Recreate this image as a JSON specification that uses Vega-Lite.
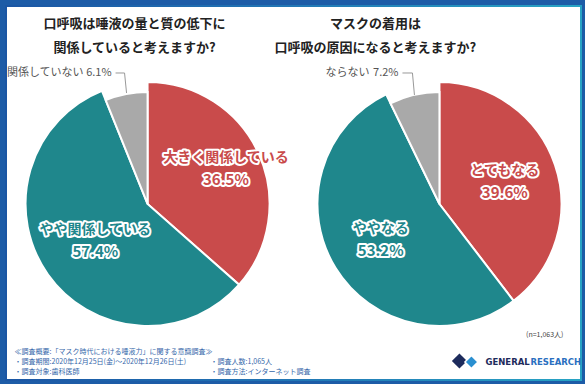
{
  "$schema": "https://vega.github.io/schema/vega-lite/v6.json",
  "width": 575,
  "height": 374,
  "autosize": {"type": "none"},
  "padding": {"left": 6, "top": 6, "right": 4, "bottom": 4},
  "background": "#1d5ca7",
  "config": {
    "view": {
      "fill": "white",
      "stroke": {"gradient": "linear", "x1": 0, "y1": 0, "x2": 1, "y2": 0,
        "stops": [{"offset": 0, "color": "#1b56a4"}, {"offset": 0.5, "color": "#2277b5"}, {"offset": 1, "color": "#28a4c4"}]},
      "strokeWidth": 2
    },
    "axis": {"disable": true},
    "legend": {"disable": true},
    "text": {"font": "Noto Sans CJK JP"}
  },
  "data": {
    "values": [
      {"q": "A", "key": "big", "name": "大きく関係している", "pct": 0.365, "ord": 1},
      {"q": "A", "key": "mid", "name": "やや関係している", "pct": 0.574, "ord": 2},
      {"q": "A", "key": "none", "name": "関係していない", "pct": 0.061, "ord": 3},
      {"q": "B", "key": "big", "name": "とてもなる", "pct": 0.396, "ord": 1},
      {"q": "B", "key": "mid", "name": "ややなる", "pct": 0.532, "ord": 2},
      {"q": "B", "key": "none", "name": "ならない", "pct": 0.072, "ord": 3}
    ]
  },
  "layer": [
    {
      "transform": [
        {"stack": "pct", "groupby": ["q"], "sort": [{"field": "ord", "order": "ascending"}], "as": ["s0", "s1"]},
        {"filter": "datum.key != 'none'"}
      ],
      "mark": {"type": "arc", "outerRadius": 122, "stroke": "white", "strokeWidth": 2},
      "encoding": {
        "x": {"field": "q", "type": "nominal", "scale": {"type": "point", "domain": ["A", "B"], "padding": 0.485}},
        "y": {"datum": "c", "type": "nominal", "scale": {"type": "point", "domain": ["c"], "align": 0.5294}},
        "theta": {"field": "s0", "type": "quantitative", "stack": null, "scale": {"domain": [0, 1]}},
        "theta2": {"field": "s1"},
        "color": {"field": "key", "type": "nominal", "scale": {"domain": ["big", "mid", "none"], "range": ["#c94b4b", "#1f878c", "#a9a9a9"]}}
      }
    },
    {
      "transform": [
        {"stack": "pct", "groupby": ["q"], "sort": [{"field": "ord", "order": "ascending"}], "as": ["s0", "s1"]},
        {"filter": "datum.key == 'none'"}
      ],
      "mark": {"type": "arc", "outerRadius": 112, "stroke": "white", "strokeWidth": 2},
      "encoding": {
        "x": {"field": "q", "type": "nominal"},
        "y": {"datum": "c", "type": "nominal"},
        "theta": {"field": "s0", "type": "quantitative", "stack": null},
        "theta2": {"field": "s1"},
        "color": {"field": "key", "type": "nominal"}
      }
    },
    {
      "transform": [{"filter": "datum.q == 'A'"}],
      "encoding": {
        "x": {"field": "q", "type": "nominal"},
        "y": {"datum": "c", "type": "nominal"},
        "theta": {"field": "pct", "type": "quantitative", "stack": true},
        "order": {"field": "ord", "type": "quantitative"},
        "radius": {"value": {"expr": "datum.key == 'big' ? 86 : 64"}},
        "opacity": {"condition": {"test": "datum.key == 'none'", "value": 0}, "value": 1}
      },
      "layer": [
        {"mark": {"type": "text", "fill": "white", "stroke": "white", "strokeWidth": 4, "strokeJoin": "round", "fontWeight": "bold", "fontSize": 14, "dy": -11}, "encoding": {"text": {"field": "name"}}},
        {"mark": {"type": "text", "fill": "white", "stroke": "white", "strokeWidth": 4, "strokeJoin": "round", "fontWeight": "bold", "fontSize": 15, "dy": 11}, "encoding": {"text": {"field": "pct", "format": ".1%"}}},
        {"mark": {"type": "text", "fontWeight": "bold", "fontSize": 14, "dy": -11}, "encoding": {"text": {"field": "name"}, "color": {"field": "key", "type": "nominal"}}},
        {"mark": {"type": "text", "fontWeight": "bold", "fontSize": 15, "dy": 11}, "encoding": {"text": {"field": "pct", "format": ".1%"}, "color": {"field": "key", "type": "nominal"}}}
      ]
    },
    {
      "transform": [{"filter": "datum.q == 'B'"}],
      "encoding": {
        "x": {"field": "q", "type": "nominal"},
        "y": {"datum": "c", "type": "nominal"},
        "theta": {"field": "pct", "type": "quantitative", "stack": true},
        "order": {"field": "ord", "type": "quantitative"},
        "radius": {"value": 69},
        "opacity": {"condition": {"test": "datum.key == 'none'", "value": 0}, "value": 1}
      },
      "layer": [
        {"mark": {"type": "text", "fill": "white", "stroke": "white", "strokeWidth": 4, "strokeJoin": "round", "fontWeight": "bold", "fontSize": 14, "dy": -11}, "encoding": {"text": {"field": "name"}}},
        {"mark": {"type": "text", "fill": "white", "stroke": "white", "strokeWidth": 4, "strokeJoin": "round", "fontWeight": "bold", "fontSize": 15, "dy": 11}, "encoding": {"text": {"field": "pct", "format": ".1%"}}},
        {"mark": {"type": "text", "fontWeight": "bold", "fontSize": 14, "dy": -11}, "encoding": {"text": {"field": "name"}, "color": {"field": "key", "type": "nominal"}}},
        {"mark": {"type": "text", "fontWeight": "bold", "fontSize": 15, "dy": 11}, "encoding": {"text": {"field": "pct", "format": ".1%"}, "color": {"field": "key", "type": "nominal"}}}
      ]
    },
    {
      "transform": [{"filter": "datum.key == 'none' && datum.q == 'A'"}],
      "encoding": {"x": {"field": "q", "type": "nominal"}, "y": {"datum": "c", "type": "nominal"}},
      "layer": [
        {"mark": {"type": "text", "align": "right", "baseline": "middle", "dx": -64, "dy": -131, "fontSize": 11, "fill": "#555555"}, "encoding": {"text": {"field": "name"}}},
        {"mark": {"type": "text", "align": "right", "baseline": "middle", "dx": -36, "dy": -131, "fontSize": 11, "fill": "#555555"}, "encoding": {"text": {"field": "pct", "format": ".1%"}}},
        {"mark": {"type": "rule", "color": "#999999", "strokeWidth": 1, "xOffset": -32, "x2Offset": -23, "yOffset": -131, "y2Offset": -131}, "encoding": {"x2": {"field": "q"}, "y2": {"datum": "c"}}},
        {"mark": {"type": "rule", "color": "#999999", "strokeWidth": 1, "xOffset": -23, "x2Offset": -21, "yOffset": -131, "y2Offset": -111}, "encoding": {"x2": {"field": "q"}, "y2": {"datum": "c"}}}
      ]
    },
    {
      "transform": [{"filter": "datum.key == 'none' && datum.q == 'B'"}],
      "encoding": {"x": {"field": "q", "type": "nominal"}, "y": {"datum": "c", "type": "nominal"}},
      "layer": [
        {"mark": {"type": "text", "align": "right", "baseline": "middle", "dx": -70, "dy": -131, "fontSize": 11, "fill": "#555555"}, "encoding": {"text": {"field": "name"}}},
        {"mark": {"type": "text", "align": "right", "baseline": "middle", "dx": -41, "dy": -131, "fontSize": 11, "fill": "#555555"}, "encoding": {"text": {"field": "pct", "format": ".1%"}}},
        {"mark": {"type": "rule", "color": "#999999", "strokeWidth": 1, "xOffset": -37, "x2Offset": -27, "yOffset": -131, "y2Offset": -131}, "encoding": {"x2": {"field": "q"}, "y2": {"datum": "c"}}},
        {"mark": {"type": "rule", "color": "#999999", "strokeWidth": 1, "xOffset": -27, "x2Offset": -25, "yOffset": -131, "y2Offset": -109}, "encoding": {"x2": {"field": "q"}, "y2": {"datum": "c"}}}
      ]
    },
    {
      "data": {"values": [{}]},
      "encoding": {"y": {"datum": "c", "type": "nominal"}},
      "layer": [
        {"mark": {"type": "text", "align": "center", "baseline": "top", "dx": -13, "dy": -186, "fontSize": 13, "fontWeight": "bold", "lineHeight": 24, "fill": "#222222"},
         "encoding": {"x": {"datum": "A", "type": "nominal"}, "text": {"value": ["口呼吸は唾液の量と質の低下に", "関係していると考えますか?"]}}},
        {"mark": {"type": "text", "align": "center", "baseline": "top", "dx": -64, "dy": -186, "fontSize": 13, "fontWeight": "bold", "lineHeight": 24, "fill": "#222222"},
         "encoding": {"x": {"datum": "B", "type": "nominal"}, "text": {"value": ["マスクの着用は", "口呼吸の原因になると考えますか?"]}}},
        {"mark": {"type": "text", "align": "left", "baseline": "top", "dx": -133, "dy": 144.5, "fontSize": 7, "lineHeight": 10, "fill": "#3567aa"},
         "encoding": {"x": {"datum": "A", "type": "nominal"}, "text": {"value": ["≪調査概要:「マスク時代における唾液力」に関する意識調査≫", "・調査期間:2020年12月25日(金)〜2020年12月26日(土)", "・調査対象:歯科医師"]}}},
        {"mark": {"type": "text", "align": "left", "baseline": "top", "dx": 63, "dy": 154.5, "fontSize": 7, "lineHeight": 10, "fill": "#3567aa"},
         "encoding": {"x": {"datum": "A", "type": "nominal"}, "text": {"value": ["・調査人数:1,065人", "・調査方法:インターネット調査"]}}},
        {"mark": {"type": "text", "align": "right", "baseline": "middle", "dx": 124, "dy": 131, "fontSize": 7, "fill": "#444444"},
         "encoding": {"x": {"datum": "B", "type": "nominal"}, "text": {"value": "(n=1,063人)"}}},
        {"mark": {"type": "point", "shape": "diamond", "filled": true, "size": 230, "color": "#1d2b5c", "opacity": 1, "xOffset": 20, "yOffset": 157},
         "encoding": {"x": {"datum": "B", "type": "nominal"}}},
        {"mark": {"type": "point", "shape": "diamond", "filled": true, "size": 170, "color": "#2a8fd0", "opacity": 1, "stroke": "white", "strokeWidth": 1.5, "xOffset": 32, "yOffset": 158},
         "encoding": {"x": {"datum": "B", "type": "nominal"}}},
        {"mark": {"type": "text", "align": "left", "baseline": "middle", "dx": 46, "dy": 158, "fontSize": 8.5, "fontWeight": "bold", "font": "DejaVu Sans", "fill": "#1d2b5c"},
         "encoding": {"x": {"datum": "B", "type": "nominal"}, "text": {"value": "GENERAL"}}},
        {"mark": {"type": "text", "align": "left", "baseline": "middle", "dx": 91, "dy": 158, "fontSize": 8.5, "fontWeight": "bold", "font": "DejaVu Sans", "fill": "#2a6fc0"},
         "encoding": {"x": {"datum": "B", "type": "nominal"}, "text": {"value": "RESEARCH"}}}
      ]
    }
  ]
}
